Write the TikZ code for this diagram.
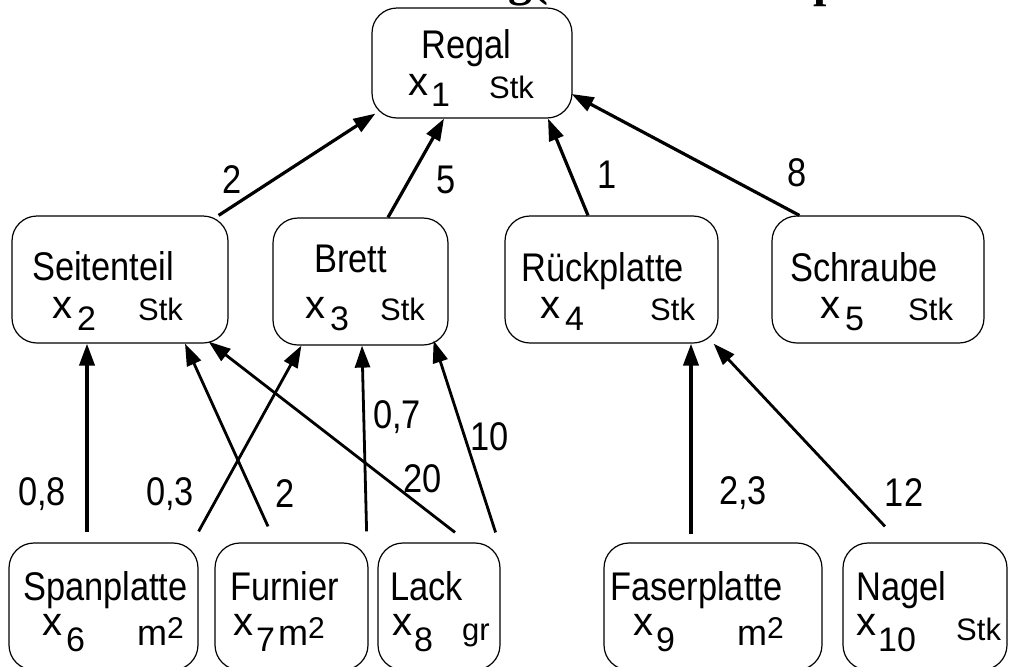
\documentclass[tikz,border=0pt]{standalone}
\usepackage{fontspec}
\setmainfont{Liberation Sans}[FakeStretch=0.86]
\newfontfamily\plainsans{Liberation Sans}
\newfontfamily\titlefont{Liberation Serif}
\usetikzlibrary{arrows.meta}
\begin{document}
\begin{tikzpicture}[x=1pt,y=-1pt,
  box/.style={draw, line width=1.2pt, rounded corners=25pt, inner sep=0pt, minimum height=127pt},
  txt/.style={inner sep=0pt, anchor=base west, font=\fontsize{40}{44}\selectfont},
  var/.style={inner sep=0pt, anchor=base west, font=\plainsans\fontsize{40}{44}\selectfont},
  sub/.style={inner sep=0pt, anchor=base west, font=\plainsans\fontsize{34}{38}\selectfont},
  unit/.style={inner sep=0pt, anchor=base west, font=\plainsans\fontsize{31}{35}\selectfont},
  munit/.style={inner sep=0pt, anchor=base west, font=\plainsans\fontsize{36}{40}\selectfont},
  sup/.style={inner sep=0pt, anchor=base west, font=\plainsans\fontsize{30}{34}\selectfont},
  elab/.style={inner sep=0pt, font=\fontsize{40}{44}\selectfont},
  ttl/.style={inner sep=0pt, anchor=base west, font=\titlefont\bfseries\fontsize{48}{52}\selectfont},
  edge/.style={line width=3.2pt, -{Triangle[length=22pt,width=15pt]}},
  vedge/.style={edge, line width=3.8pt},
  dedge/.style={edge, line width=2.8pt}]
\useasboundingbox (0,0) rectangle (1010,667);
\clip (0,0) rectangle (1010,667);
\fill[white] (0,0) rectangle (1010,667);

% title fragments (cut off at the top edge)
\node[ttl] (t1) at (508,-5) {g(};
\node[ttl] (t2) at (813,-4) {p};

% boxes
\node[box, minimum width=200pt, minimum height=110pt] (regal) at (472,63) {};
\node[box, minimum width=216pt] (seit) at (120,279.5) {};
\node[box, minimum width=175pt] (brett) at (360.5,281.5) {};
\node[box, minimum width=213pt] (rueck) at (611.5,279.5) {};
\node[box, minimum width=212pt] (schr) at (878,279.5) {};
\node[box, minimum width=189pt] (span) at (103.5,606.5) {};
\node[box, minimum width=153pt] (furn) at (291.5,606.5) {};
\node[box, minimum width=122pt] (lack) at (439,606.5) {};
\node[box, minimum width=218pt] (fas) at (713,606.5) {};
\node[box, minimum width=164pt] (nag) at (925,606.5) {};

% Regal
\node[txt] (regalN) at (421,58) {Regal};
\node[var] (regalX) at (408,95) {x};
\node[sub] (regalS) at (431,106) {1};
\node[unit] (regalU) at (489,98) {Stk};
% Seitenteil
\node[txt] (seitN) at (32,280) {Seitenteil};
\node[var] (seitX) at (52,318) {x};
\node[sub] (seitS) at (77,330) {2};
\node[unit] (seitU) at (138,320) {Stk};
% Brett
\node[txt] (brettN) at (314,272) {Brett};
\node[var] (brettX) at (305,318) {x};
\node[sub] (brettS) at (330,330) {3};
\node[unit] (brettU) at (380,320) {Stk};
% Rueckplatte
\node[txt] (rueckN) at (521,281) {Rückplatte};
\node[var] (rueckX) at (540,318) {x};
\node[sub] (rueckS) at (565,330) {4};
\node[unit] (rueckU) at (650,320) {Stk};
% Schraube
\node[txt] (schrN) at (790,281) {Schraube};
\node[var] (schrX) at (820,318) {x};
\node[sub] (schrS) at (845,330) {5};
\node[unit] (schrU) at (908,320) {Stk};
% Spanplatte
\node[txt] (spanN) at (23,600) {Spanplatte};
\node[var] (spanX) at (42,635) {x};
\node[sub] (spanS) at (66,651) {6};
\node[munit] (spanU) at (137,645) {m};
\node[sup] (spanE) at (167,638) {2};
% Furnier
\node[txt] (furnN) at (230,600) {Furnier};
\node[var] (furnX) at (233,635) {x};
\node[sub] (furnS) at (256,651) {7};
\node[munit] (furnU) at (278,645) {m};
\node[sup] (furnE) at (308,638) {2};
% Lack
\node[txt] (lackN) at (390,600) {Lack};
\node[var] (lackX) at (392,635) {x};
\node[sub] (lackS) at (414,651) {8};
\node[unit] (lackU) at (462,640) {gr};
% Faserplatte
\node[txt] (fasN) at (610,600) {Faserplatte};
\node[var] (fasX) at (633,635) {x};
\node[sub] (fasS) at (656,651) {9};
\node[munit] (fasU) at (737,645) {m};
\node[sup] (fasE) at (767,638) {2};
% Nagel
\node[txt] (nagN) at (856,600) {Nagel};
\node[var] (nagX) at (856,635) {x};
\node[sub] (nagS) at (878,651) {10};
\node[unit] (nagU) at (956,640) {Stk};

% edges to Regal
\draw[edge] ([xshift=-10pt]seit.north east) -- ([xshift=4pt,yshift=5pt]regal.south west);
\draw[edge] ([xshift=27.5pt]brett.north) -- ([xshift=-28pt]regal.south);
\draw[edge] ([xshift=-23.5pt]rueck.north) -- ([xshift=76pt]regal.south);
\draw[edge] ([xshift=28pt]schr.north west) -- ([xshift=-1pt,yshift=-31pt]regal.east);
% edges from the bottom row
\draw[vedge] ([xshift=-16.5pt,yshift=10pt]span.north) -- ([xshift=-33pt]seit.south);
\draw[dedge] ([yshift=11pt]span.north east) -- ([xshift=29pt]brett.south west);
\draw[dedge] ([xshift=-23.5pt,yshift=16pt]furn.north) -- ([xshift=65pt]seit.south);
\draw[dedge] ([xshift=-2pt,yshift=11pt]furn.north east) -- ([xshift=1.5pt]brett.south);
\draw[dedge] ([xshift=16pt,yshift=10pt]lack.north) -- ([xshift=-20pt,yshift=2pt]seit.south east);
\draw[dedge] ([xshift=-5pt,yshift=10pt]lack.north east) -- ([xshift=-15pt,yshift=5pt]brett.south east);
\draw[vedge] ([xshift=-22pt,yshift=8pt]fas.north) -- ([xshift=79.5pt]rueck.south);
\draw[dedge] ([xshift=-40pt,yshift=16pt]nag.north) -- ([xshift=-5pt]rueck.south east);

% edge labels
\node[elab] (l1) at (232,180) {2};
\node[elab] (l2) at (446,180) {5};
\node[elab] (l3) at (607,175) {1};
\node[elab] (l4) at (797,173) {8};
\node[elab] (l5) at (42,494) {0,8};
\node[elab] (l6) at (170,494) {0,3};
\node[elab] (l7) at (285,494) {2};
\node[elab] (l8) at (397,417) {0,7};
\node[elab] (l9) at (490,437) {10};
\node[elab] (l10) at (423,479) {20};
\node[elab] (l11) at (743,493) {2,3};
\node[elab] (l12) at (904,493) {12};
\end{tikzpicture}
\end{document}
